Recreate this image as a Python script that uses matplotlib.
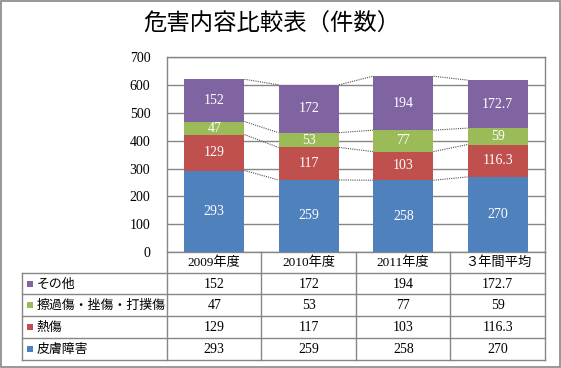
import matplotlib
matplotlib.use("Agg")
import matplotlib.pyplot as plt
import matplotlib.transforms as mtransforms
from matplotlib.patches import Rectangle
import numpy as np

plt.rcParams['font.family'] = ['Liberation Serif', 'Noto Sans CJK JP', 'DejaVu Sans']

# ---- data ----
title = "危害内容比較表（件数）"
categories = ["2009年度", "2010年度", "2011年度", "３年間平均"]
series_names = ["皮膚障害", "熱傷", "擦過傷・挫傷・打撲傷", "その他"]
skin = [293, 259, 258, 270]
burn = [129, 117, 103, 116.3]
abrasion = [47, 53, 77, 59]
other = [152, 172, 194, 172.7]
colors = ["#4F81BD", "#C0504D", "#9BBB59", "#8064A2"]
y_ticks = [0, 100, 200, 300, 400, 500, 600, 700]

series = [skin, burn, abrasion, other]

W, H = 561, 368
fig = plt.figure(figsize=(W / 100, H / 100), dpi=100)

# layout in pixels
px_left, px_right, px_top, px_bottom = 167, 545, 57.3, 252
ax = fig.add_axes([px_left / W, (H - px_bottom) / H,
                   (px_right - px_left) / W, (px_bottom - px_top) / H])

grid_c = "#868686"
num_fs = 10
x = np.arange(len(categories))
bw = 0.64
bottom = np.zeros(len(categories))
tops = []
for vals, c in zip(series, colors):
    vals = np.array(vals, dtype=float)
    bars = ax.bar(x, vals, bw, bottom=bottom, color=c, zorder=3)
    ax.bar_label(bars, labels=[f"{v:g}" for v in vals], label_type='center',
                 color='white', fontsize=num_fs)
    bottom = bottom + vals
    tops.append(bottom.copy())

# series lines (dotted) connecting segment tops
for cum in tops:
    for i in range(len(categories) - 1):
        ax.plot([x[i] + bw / 2, x[i + 1] - bw / 2], [cum[i], cum[i + 1]],
                linestyle=(0, (1, 1)), color="#505050", lw=0.8, zorder=2)

ax.set_xlim(-0.5, len(categories) - 0.5)
ax.set_ylim(0, 700)
ax.set_yticks(y_ticks)
ax.set_yticklabels([str(t) for t in y_ticks], fontsize=num_fs)
ax.tick_params(axis='y', length=0, pad=12)
ax.set_xticks([])
ax.yaxis.grid(True, color=grid_c, lw=1)
ax.set_axisbelow(True)
for s in ax.spines.values():
    s.set_color(grid_c)
    s.set_linewidth(1)

# overlay in pixel coordinates
ov = fig.add_axes([0, 0, 1, 1], zorder=-1)
ov.set_xlim(0, W)
ov.set_ylim(H, 0)
ov.axis('off')
ov.add_patch(Rectangle((0.5, 0.5), W - 1.5, H - 1.5, fill=False,
                       edgecolor=grid_c, lw=1.2))

fig.text(272 / W, 1 - 25 / H, title, ha='center', va='center', fontsize=16.8)

# data table
ov2 = fig.add_axes([0, 0, 1, 1], zorder=5)
ov2.set_xlim(0, W)
ov2.set_ylim(H, 0)
ov2.axis('off')
ov2.patch.set_alpha(0)

tbl_left = 22.3
row_lines = [273.3, 294.3, 316.3, 338.3, 360]
header_top = 252
ncat = len(categories)
col_bounds = [px_left + (px_right - px_left) * k / ncat for k in range(ncat + 1)]
for xb in col_bounds:
    ov2.plot([xb, xb], [header_top, row_lines[-1]], color=grid_c, lw=1)
for yb in row_lines:
    ov2.plot([tbl_left, px_right], [yb, yb], color=grid_c, lw=1)
ov2.plot([tbl_left, tbl_left], [row_lines[0], row_lines[-1]], color=grid_c, lw=1)

# text via blended transform: x in category data coords, y in pixels
trans = mtransforms.blended_transform_factory(ax.transData, ov2.transData)
hdr_y = (header_top + row_lines[0]) / 2
for i, cat in enumerate(categories):
    ov2.text(x[i], hdr_y + 0.5, cat, transform=trans, ha='center', va='center', fontsize=9.5)

rows = list(zip(series_names, series, colors))[::-1]
for r, (name, vals, c) in enumerate(rows):
    yc = (row_lines[r] + row_lines[r + 1]) / 2 + 0.5
    ov2.add_patch(Rectangle((27.3, yc - 3.5), 6, 6, color=c, lw=0))
    ov2.text(36.5, yc, name, ha='left', va='center', fontsize=9.3)
    for i, v in enumerate(vals):
        ov2.text(x[i], yc, f"{v:g}", transform=trans, ha='center', va='center', fontsize=num_fs)

fig.savefig("out.png", dpi=100)
